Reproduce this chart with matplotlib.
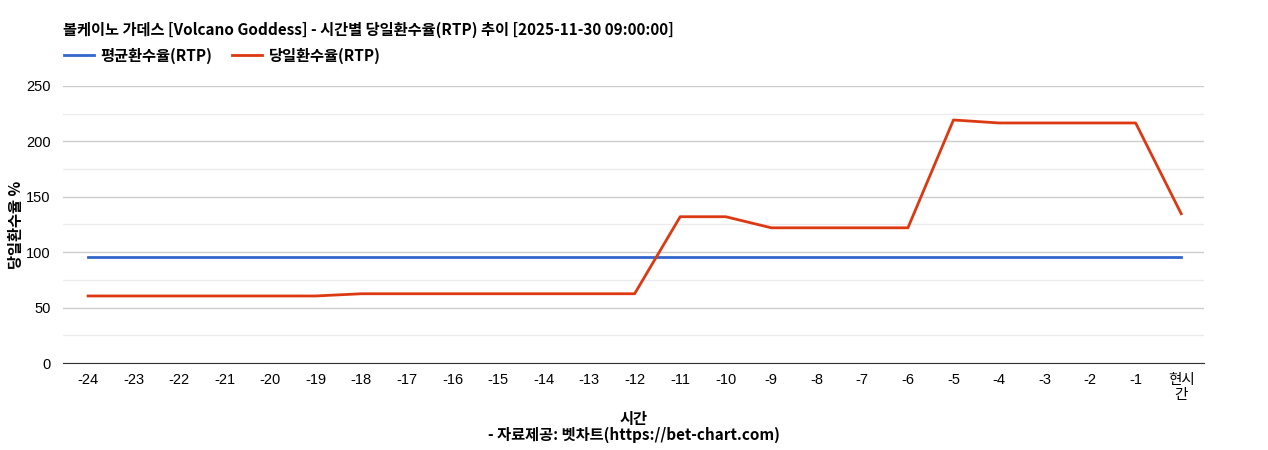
import matplotlib
matplotlib.use('Agg')
import matplotlib.pyplot as plt
from matplotlib.ticker import MultipleLocator

plt.rcParams['font.family'] = ['Noto Sans CJK KR', 'DejaVu Sans']

hours = ['-24', '-23', '-22', '-21', '-20', '-19', '-18', '-17', '-16', '-15',
         '-14', '-13', '-12', '-11', '-10', '-9', '-8', '-7', '-6', '-5',
         '-4', '-3', '-2', '-1', '현시\n간']
avg_rtp = [96] * 25
day_rtp = [60.5, 60.5, 60.5, 60.5, 60.5, 60.5, 62.5, 62.5, 62.5, 62.5,
           62.5, 62.5, 62.5, 132, 132, 122, 122, 122, 122, 219.3,
           216.6, 216.6, 216.6, 216.6, 134.7]

fig = plt.figure(figsize=(12.68, 4.5), dpi=100)
ax = fig.add_axes([0.0497, 0.1933, 0.8998, 0.6157])

x = list(range(len(hours)))
ax.plot(x, avg_rtp, color='#3366cc', lw=2, label='평균환수율(RTP)')
ax.plot(x, day_rtp, color='#dc3912', lw=2, label='당일환수율(RTP)')

ax.set_xlim(-0.55, 24.5)
ax.set_ylim(0, 250)
ax.yaxis.set_major_locator(MultipleLocator(50))
ax.yaxis.set_minor_locator(MultipleLocator(25))
ax.grid(which='major', axis='y', color='#cccccc', lw=1)
ax.grid(which='minor', axis='y', color='#ebebeb', lw=1)
ax.set_axisbelow(True)
for s in ['top', 'right', 'left']:
    ax.spines[s].set_visible(False)
ax.spines['bottom'].set_color('#333333')
ax.set_xticks(x)
ax.set_xticklabels(hours, linespacing=1.15)
tick_font = ['Liberation Sans', 'Noto Sans CJK KR']
for lbl in ax.get_xticklabels() + ax.get_yticklabels():
    lbl.set_family(tick_font)
    lbl.set_fontsize(10.5)
ax.tick_params(axis='y', which='both', length=0, pad=9)
ax.tick_params(axis='x', length=0, pad=7)

ax.set_ylabel('당일환수율 %', fontsize=11, fontweight='bold')
ax.yaxis.set_label_coords(-0.034, 0.5)
ax.set_xlabel('시간', fontsize=11, fontweight='bold', labelpad=6)
fig.text(0.5, 0.022, '- 자료제공: 벳차트(https://bet-chart.com)', ha='center',
         fontsize=11, fontweight='bold')
fig.text(0.0497, 0.933, '볼케이노 가데스 [Volcano Goddess] - 시간별 당일환수율(RTP) 추이 [2025-11-30 09:00:00]',
         fontsize=11, fontweight='bold', va='center')

ax.legend(loc='lower left', bbox_to_anchor=(-0.006, 1.052), ncol=2, frameon=False,
          prop={'size': 11, 'weight': 'bold'}, handlelength=1.95, columnspacing=1.3,
          borderpad=0, handletextpad=0.45)

plt.savefig('out.png', dpi=100)
